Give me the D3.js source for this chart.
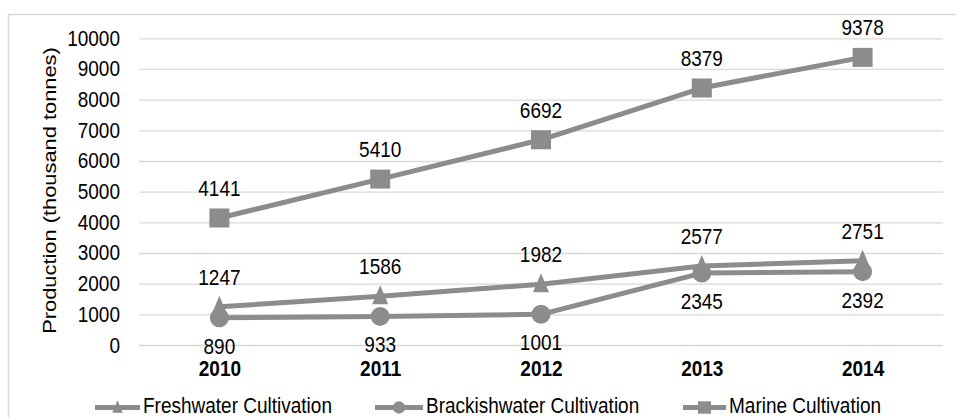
<!DOCTYPE html>
<html>
<head>
<meta charset="utf-8">
<script src="https://cdn.jsdelivr.net/npm/d3@7/dist/d3.min.js"></script>
<style>
  html, body { margin: 0; padding: 0; background: #fff; }
  svg { display: block; font-family: "Liberation Sans", Arial, sans-serif; }
</style>
</head>
<body>
<svg id="chart" width="956" height="417"></svg>
<script>
// Aquaculture production by cultivation type (thousand tonnes)
const years = ["2010", "2011", "2012", "2013", "2014"];
const freshwater = [1247, 1586, 1982, 2577, 2751];
const brackishwater = [890, 933, 1001, 2345, 2392];
const marine = [4141, 5410, 6692, 8379, 9378];
const yTicks = [0, 1000, 2000, 3000, 4000, 5000, 6000, 7000, 8000, 9000, 10000];

const series = [
  { name: "Freshwater Cultivation", values: freshwater, marker: "triangle", labelPos: "above" },
  { name: "Brackishwater Cultivation", values: brackishwater, marker: "circle", labelPos: "below" },
  { name: "Marine Cultivation", values: marine, marker: "square", labelPos: "above" }
];

const W = 956, H = 417;
const plotLeft = 139, plotRight = 943;
const FS = 19;            // font size
const STRETCH = 1.15;     // tall glyph proportion
const lineColor = "#8c8c8c";
const svg = d3.select("#chart");

// chart frame
svg.append("rect")
  .attr("x", 8.5).attr("y", 14.5)
  .attr("width", W + 10).attr("height", H + 10)
  .attr("fill", "#fff").attr("stroke", "#d9d9d9").attr("stroke-width", 1.5);

const x = d3.scalePoint().domain(years).range([plotLeft, plotRight]).padding(0.5);
const y = d3.scaleLinear().domain([0, 10000]).range([345, 38.3]);

function label(g, px, py, str, anchor, weight) {
  return g.append("text")
    .attr("transform", `translate(${px},${py}) scale(1,${STRETCH})`)
    .attr("text-anchor", anchor || "start")
    .attr("font-size", FS).attr("font-weight", weight || "normal")
    .attr("fill", "#000").text(str);
}

// gridlines + y tick labels
const yAxis = d3.axisLeft(y).tickValues(yTicks)
  .tickSize(-(plotRight - plotLeft)).tickPadding(19)
  .tickFormat(d3.format("d"));
const gy = svg.append("g").attr("transform", `translate(${plotLeft},0)`).call(yAxis);
gy.select(".domain").remove();
gy.selectAll(".tick line").attr("stroke", "#d9d9d9").attr("stroke-width", 1.3);
gy.selectAll(".tick text").attr("fill", "#000").attr("font-size", FS)
  .attr("font-family", "Liberation Sans, Arial, sans-serif")
  .attr("dy", null)
  .attr("transform", `translate(0,7) scale(1,${STRETCH})`);

// x axis labels
const xAxis = d3.axisBottom(x).tickSize(0).tickPadding(0);
const gx = svg.append("g").attr("transform", "translate(0,376)").call(xAxis);
gx.select(".domain").remove();
gx.selectAll(".tick text").attr("fill", "#000").attr("font-size", FS)
  .attr("font-weight", "bold").attr("dy", null).attr("y", 0)
  .attr("font-family", "Liberation Sans, Arial, sans-serif")
  .attr("transform", `scale(1,${STRETCH})`);

// y axis title
svg.append("text")
  .attr("transform", `translate(56,${(345 + 38) / 2 - 1}) scale(1,${STRETCH}) rotate(-90)`)
  .attr("text-anchor", "middle").attr("font-size", FS).attr("fill", "#000")
  .text("Production (thousand tonnes)");

// marker shapes; k scales the size (legend keys are drawn smaller)
function drawMarker(g, type, cx, cy, k = 1) {
  if (type === "square") {
    g.append("rect").attr("x", cx - 10 * k).attr("y", cy - 9.5 * k)
      .attr("width", 20 * k).attr("height", 19 * k).attr("fill", lineColor);
  } else if (type === "circle") {
    g.append("circle").attr("cx", cx).attr("cy", cy).attr("r", 9.5 * k).attr("fill", lineColor);
  } else {
    g.append("path")
      .attr("d", `M${cx},${cy - 11 * k}L${cx + 8 * k},${cy + 8 * k}L${cx - 8 * k},${cy + 8 * k}Z`)
      .attr("fill", lineColor);
  }
}

const line = d3.line().x((d, i) => x(years[i])).y(d => y(d));

series.forEach(s => {
  const g = svg.append("g");
  g.append("path").datum(s.values).attr("d", line)
    .attr("fill", "none").attr("stroke", lineColor).attr("stroke-width", 5)
    .attr("stroke-linejoin", "round");
  s.values.forEach((v, i) => drawMarker(g, s.marker, x(years[i]), y(v)));
  s.values.forEach((v, i) => {
    const ly = s.labelPos === "above" ? y(v) - 22 : y(v) + 36;
    label(g, x(years[i]), ly, String(v), "middle");
  });
});

// legend
const legendItems = [
  { idx: 0, x0: 95, x1: 140 },
  { idx: 1, x0: 375, x1: 423 },
  { idx: 2, x0: 683, x1: 726 }
];
const lg = svg.append("g");
legendItems.forEach(it => {
  const s = series[it.idx];
  const ly = 407.5;
  lg.append("line").attr("x1", it.x0).attr("x2", it.x1).attr("y1", ly).attr("y2", ly)
    .attr("stroke", lineColor).attr("stroke-width", 5);
  drawMarker(lg, s.marker, (it.x0 + it.x1) / 2, ly, 0.65);
  label(lg, it.x1 + 3, 412.5, s.name, "start");
});
</script>
</body>
</html>
